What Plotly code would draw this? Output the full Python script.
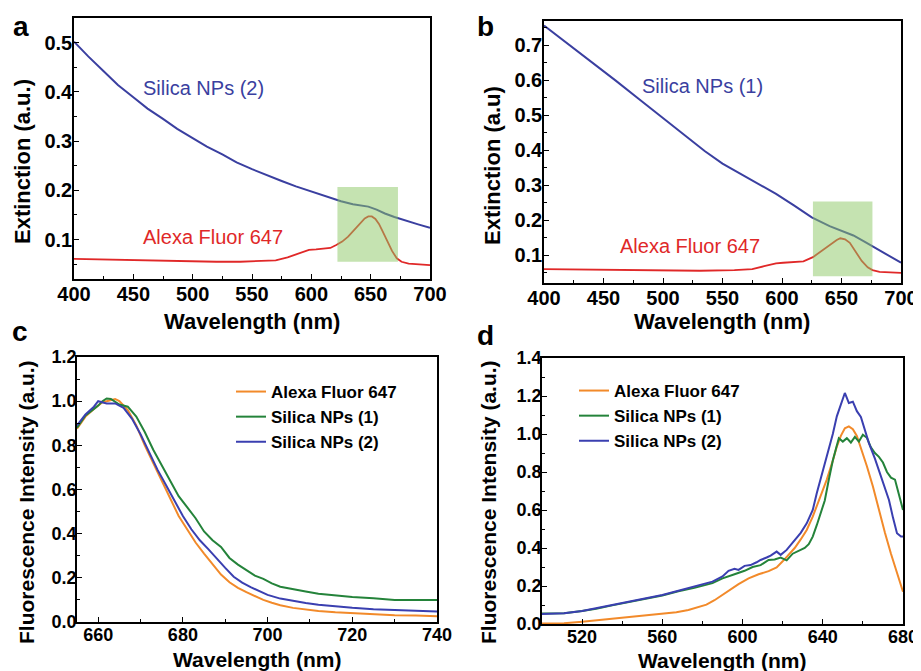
import plotly.graph_objects as go

# ---- panel a: extinction, Silica NPs (2) vs dye ----
wl_a_silica = [400, 412, 425, 437, 450, 462, 475, 487, 500, 512, 525, 537, 550, 562, 575, 587,
               600, 612, 625, 635, 642, 648, 655, 662, 670, 680, 690, 700]
ext_a_silica = [0.502, 0.472, 0.442, 0.414, 0.389, 0.366, 0.345, 0.325, 0.306, 0.289, 0.273, 0.257,
                0.243, 0.231, 0.219, 0.208, 0.198, 0.188, 0.178, 0.172, 0.170, 0.167, 0.161, 0.153,
                0.146, 0.138, 0.131, 0.124]
wl_a_dye = [400, 420, 440, 460, 480, 500, 520, 540, 560, 570, 580, 590, 598, 604, 610, 616, 621, 626,
            631, 636, 641, 645, 648, 651, 654, 657, 660, 664, 668, 672, 676, 682, 690, 700]
ext_a_dye = [0.061, 0.060, 0.058, 0.057, 0.056, 0.055, 0.055, 0.055, 0.056, 0.058, 0.064, 0.073, 0.079,
             0.080, 0.081, 0.083, 0.089, 0.096, 0.106, 0.120, 0.134, 0.143, 0.147, 0.147, 0.142, 0.132,
             0.117, 0.097, 0.077, 0.062, 0.055, 0.051, 0.049, 0.048]
box_a = [622, 673, 0.055, 0.207]  # x0, x1, y0, y1 of green highlight

# ---- panel b: extinction, Silica NPs (1) vs dye ----
wl_b_silica = [400, 420, 440, 460, 480, 500, 520, 535, 550, 565, 580, 595, 610, 625, 640, 650, 660,
               670, 680, 690, 700]
ext_b_silica = [0.757, 0.705, 0.652, 0.600, 0.546, 0.492, 0.438, 0.398, 0.362, 0.333, 0.305, 0.275,
                0.242, 0.208, 0.183, 0.170, 0.156, 0.137, 0.117, 0.098, 0.078]
wl_b_dye = [400, 450, 500, 531, 560, 575, 585, 595, 601, 610, 618, 626, 633, 640, 646, 649, 653, 657,
            662, 667, 672, 676, 682, 690, 700]
ext_b_dye = [0.060, 0.058, 0.055, 0.055, 0.057, 0.060, 0.068, 0.076, 0.078, 0.079, 0.082, 0.094, 0.112,
             0.130, 0.143, 0.148, 0.145, 0.135, 0.108, 0.083, 0.065, 0.057, 0.052, 0.050, 0.049]
box_b = [626, 676, 0.039, 0.253]

# ---- panel c: fluorescence, 655-740 nm ----
wl_c_dye = [655, 657, 659, 661, 662, 664, 665, 667, 669, 671, 673, 675, 677, 679, 681, 683, 685, 687,
            689, 691, 693, 695, 697, 699, 701, 703, 706, 709, 712, 716, 720, 725, 730, 735, 740]
fl_c_dye = [0.875, 0.93, 0.965, 0.995, 1.0, 1.01, 1.0, 0.96, 0.89, 0.80, 0.72, 0.64, 0.56, 0.48, 0.42,
            0.36, 0.31, 0.26, 0.215, 0.18, 0.155, 0.135, 0.117, 0.10, 0.087, 0.076, 0.064, 0.056, 0.050,
            0.044, 0.040, 0.036, 0.031, 0.029, 0.026]
wl_c_np1 = [655, 657, 659, 660, 661, 662, 663, 665, 667, 669, 671, 673, 675, 677, 679, 681, 683, 685,
            687, 689, 691, 693, 695, 697, 699, 701, 703, 706, 709, 712, 716, 720, 725, 730, 735, 740]
fl_c_np1 = [0.88, 0.935, 0.965, 0.98, 1.0, 1.012, 1.01, 0.985, 0.975, 0.93, 0.86, 0.78, 0.71, 0.64,
            0.57, 0.52, 0.47, 0.41, 0.37, 0.34, 0.29, 0.26, 0.235, 0.21, 0.195, 0.175, 0.16, 0.148,
            0.138, 0.128, 0.12, 0.113, 0.108, 0.10, 0.10, 0.10]
wl_c_np2 = [655, 657, 659, 660, 662, 664, 666, 668, 670, 672, 674, 676, 678, 680, 682, 684, 686, 688,
            690, 692, 694, 696, 698, 700, 703, 706, 709, 712, 716, 720, 725, 730, 735, 740]
fl_c_np2 = [0.89, 0.94, 0.975, 1.0, 0.99, 0.99, 0.97, 0.92, 0.85, 0.77, 0.69, 0.62, 0.55, 0.48, 0.42,
            0.37, 0.33, 0.285, 0.245, 0.205, 0.178, 0.158, 0.14, 0.123, 0.106, 0.095, 0.086, 0.078,
            0.07, 0.064, 0.058, 0.054, 0.05, 0.047]

# ---- panel d: fluorescence, 500-680 nm ----
wl_d_dye = [500, 511, 520, 530, 540, 550, 560, 567, 573, 578, 582, 586, 590, 594, 598, 603, 608, 613,
            617, 620, 623, 626, 629, 632, 635, 637, 640, 642, 645, 647, 649, 651, 653, 655, 657, 659,
            662, 665, 668, 671, 674, 677, 680]
fl_d_dye = [0.003, 0.004, 0.012, 0.022, 0.033, 0.042, 0.054, 0.062, 0.074, 0.088, 0.102, 0.125, 0.153,
            0.18, 0.21, 0.24, 0.262, 0.278, 0.298, 0.33, 0.365, 0.40, 0.445, 0.495, 0.565, 0.618, 0.70,
            0.76, 0.86, 0.934, 0.99, 1.03, 1.04, 1.025, 0.99, 0.93, 0.83, 0.724, 0.60, 0.48, 0.37,
            0.27, 0.17]
wl_d_np1 = [500, 511, 520, 527, 535, 544, 552, 560, 568, 576, 585, 590, 596, 601, 605, 609, 613, 616,
            619, 622, 625, 628, 631, 633, 635, 637, 639, 641, 643, 645, 647, 648, 650, 652, 654, 656,
            658, 660, 662, 664, 666, 668, 670, 672, 674, 676, 678, 680]
fl_d_np1 = [0.055, 0.057, 0.068, 0.08, 0.098, 0.117, 0.133, 0.15, 0.172, 0.19, 0.215, 0.24, 0.262,
            0.28, 0.30, 0.31, 0.337, 0.34, 0.35, 0.335, 0.37, 0.385, 0.40, 0.42, 0.46, 0.52, 0.58,
            0.65, 0.759, 0.86, 0.94, 0.978, 0.96, 0.978, 0.955, 0.985, 0.96, 0.996, 0.98, 0.93, 0.90,
            0.88, 0.85, 0.80, 0.77, 0.76, 0.68, 0.60]
wl_d_np2 = [500, 505, 511, 520, 527, 535, 544, 552, 560, 568, 576, 581, 585, 590, 593, 596, 598, 601,
            604, 607, 609, 612, 614, 617, 619, 622, 626, 629, 632, 635, 637, 640, 642, 645, 647, 649,
            651, 652, 653, 655, 657, 659, 661, 663, 666, 668, 671, 673, 675, 677, 679, 680]
fl_d_np2 = [0.052, 0.053, 0.056, 0.068, 0.083, 0.10, 0.118, 0.135, 0.153, 0.175, 0.197, 0.21, 0.223,
            0.25, 0.28, 0.29, 0.285, 0.306, 0.31, 0.325, 0.337, 0.35, 0.36, 0.381, 0.364, 0.39, 0.443,
            0.48, 0.53, 0.60, 0.688, 0.80, 0.882, 1.0, 1.093, 1.16, 1.216, 1.19, 1.163, 1.17, 1.12,
            1.09, 1.02, 0.952, 0.87, 0.81, 0.72, 0.653, 0.56, 0.478, 0.46, 0.46]

legend_names = ["Alexa Fluor 647", "Silica NPs (1)", "Silica NPs (2)"]

RED = "#e02828"
NAVY = "#3a3fa0"
ORANGE = "#f28a2a"
GREEN = "#24833a"
BLUE = "#3a3fb0"
FONT = "Liberation Sans, Arial, sans-serif"
# the page body adds an 8px margin, so the figure is 8px smaller than the window on each axis
OFF = 8
W, H = 921 - OFF, 671 - OFF

fig = go.Figure()

# extinction panels
fig.add_trace(go.Scatter(x=wl_a_silica, y=ext_a_silica, mode="lines", line=dict(color=NAVY, width=2),
                         xaxis="x", yaxis="y", showlegend=False))
fig.add_trace(go.Scatter(x=wl_a_dye, y=ext_a_dye, mode="lines", line=dict(color=RED, width=1.8),
                         xaxis="x", yaxis="y", showlegend=False))
fig.add_trace(go.Scatter(x=wl_b_silica, y=ext_b_silica, mode="lines", line=dict(color=NAVY, width=2),
                         xaxis="x2", yaxis="y2", showlegend=False))
fig.add_trace(go.Scatter(x=wl_b_dye, y=ext_b_dye, mode="lines", line=dict(color=RED, width=1.8),
                         xaxis="x2", yaxis="y2", showlegend=False))

# fluorescence panels
for xs, ys, name, col in [(wl_c_dye, fl_c_dye, legend_names[0], ORANGE),
                          (wl_c_np1, fl_c_np1, legend_names[1], GREEN),
                          (wl_c_np2, fl_c_np2, legend_names[2], BLUE)]:
    fig.add_trace(go.Scatter(x=xs, y=ys, mode="lines", name=name, line=dict(color=col, width=2),
                             xaxis="x3", yaxis="y3", legend="legend"))
for xs, ys, name, col in [(wl_d_dye, fl_d_dye, legend_names[0], ORANGE),
                          (wl_d_np1, fl_d_np1, legend_names[1], GREEN),
                          (wl_d_np2, fl_d_np2, legend_names[2], BLUE)]:
    fig.add_trace(go.Scatter(x=xs, y=ys, mode="lines", name=name, line=dict(color=col, width=2),
                             xaxis="x4", yaxis="y4", legend="legend2"))

# green highlight boxes over the dye absorption peak
for box, xr, yr in [(box_a, "x", "y"), (box_b, "x2", "y2")]:
    fig.add_shape(type="rect", x0=box[0], x1=box[1], y0=box[2], y1=box[3], xref=xr, yref=yr,
                  fillcolor="rgba(140,200,100,0.5)", line=dict(width=0), layer="above")


def px_x(p):
    return (p - OFF) / W


def px_y(p):
    return 1 - (p - OFF) / H


def ax(domain, rng, dtick, minor, size, fmt=None, anchor=None, standoff=0):
    d = dict(domain=domain, range=rng, dtick=dtick, tick0=0,
             showline=True, mirror=True, linecolor="black", linewidth=1.6,
             ticks="inside", ticklen=5, tickwidth=1.4, tickcolor="black",
             minor=dict(dtick=minor, ticks="inside", ticklen=3, tickwidth=1.2, tickcolor="black"),
             showgrid=False, zeroline=False, anchor=anchor, automargin=False,
             ticklabelstandoff=standoff,
             tickfont=dict(family=FONT, size=size, color="black", weight="bold"))
    if fmt:
        d["tickformat"] = fmt
    return d


legend_font = dict(family=FONT, size=17, color="black", weight="bold")
layout = dict(
    width=W, height=H, margin=dict(l=0, r=0, t=0, b=0, pad=0),
    paper_bgcolor="white", plot_bgcolor="white",
    xaxis=ax([px_x(74), px_x(430)], [400, 700], 50, 25, 20, anchor="y", standoff=-4),
    yaxis=ax([px_y(279), px_y(18)], [0.02, 0.55], 0.1, 0.05, 20, ".1f", anchor="x", standoff=-4),
    xaxis2=ax([px_x(544), px_x(901)], [400, 700], 50, 25, 20, anchor="y2", standoff=-4),
    yaxis2=ax([px_y(283), px_y(21)], [0.02, 0.77], 0.1, 0.05, 20, ".1f", anchor="x2", standoff=-4),
    xaxis3=ax([px_x(77), px_x(437)], [655, 740], 20, 10, 18, anchor="y3", standoff=-4),
    yaxis3=ax([px_y(622), px_y(357)], [0, 1.2], 0.2, 0.1, 18, ".1f", anchor="x3", standoff=-5),
    xaxis4=ax([px_x(542), px_x(903)], [500, 680], 40, 20, 18, anchor="y4", standoff=-4),
    yaxis4=ax([px_y(624), px_y(358)], [0, 1.4], 0.2, 0.1, 18, ".1f", anchor="x4", standoff=-5),
    legend=dict(x=px_x(231), y=px_y(374), xanchor="left", yanchor="top", bgcolor="rgba(0,0,0,0)",
                font=legend_font, tracegroupgap=0),
    legend2=dict(x=px_x(574), y=px_y(373), xanchor="left", yanchor="top", bgcolor="rgba(0,0,0,0)",
                 font=legend_font, tracegroupgap=0),
)
fig.update_layout(**layout)

# in-plot series labels
labels = [
    ("x", "y", 509, 0.408, "Silica NPs (2)", NAVY),
    ("x", "y", 517, 0.106, "Alexa Fluor 647", RED),
    ("x2", "y2", 533, 0.585, "Silica NPs (1)", NAVY),
    ("x2", "y2", 523, 0.127, "Alexa Fluor 647", RED),
]
for xr, yr, x, y, t, c in labels:
    fig.add_annotation(x=x, y=y, xref=xr, yref=yr, text=t, showarrow=False,
                       font=dict(family=FONT, size=20, color=c))

# axis titles and panel letters placed in window pixels
paper_text = [
    (252, 321, "Wavelength (nm)", 0, 22),
    (722, 321, "Wavelength (nm)", 0, 22),
    (257, 659, "Wavelength (nm)", 0, 21),
    (722, 660, "Wavelength (nm)", 0, 21),
    (22, 162, "Extinction (a.u.)", -90, 22),
    (492, 166, "Extinction (a.u)", -90, 22),
    (26, 502, "Fluorescence Intensity (a.u.)", -90, 21),
    (488, 502, "Fluorescence Intensity (a.u.)", -90, 21),
    (21, 26, "a", 0, 28),
    (486, 26, "b", 0, 28),
    (20, 331, "c", 0, 28),
    (485, 335, "d", 0, 28),
]
for x, y, t, ang, s in paper_text:
    fig.add_annotation(x=px_x(x), y=px_y(y), xref="paper", yref="paper", text=t, showarrow=False,
                       textangle=ang, xanchor="center", yanchor="middle",
                       font=dict(family=FONT, size=s, color="black", weight="bold"))

fig.write_html("out.html")
